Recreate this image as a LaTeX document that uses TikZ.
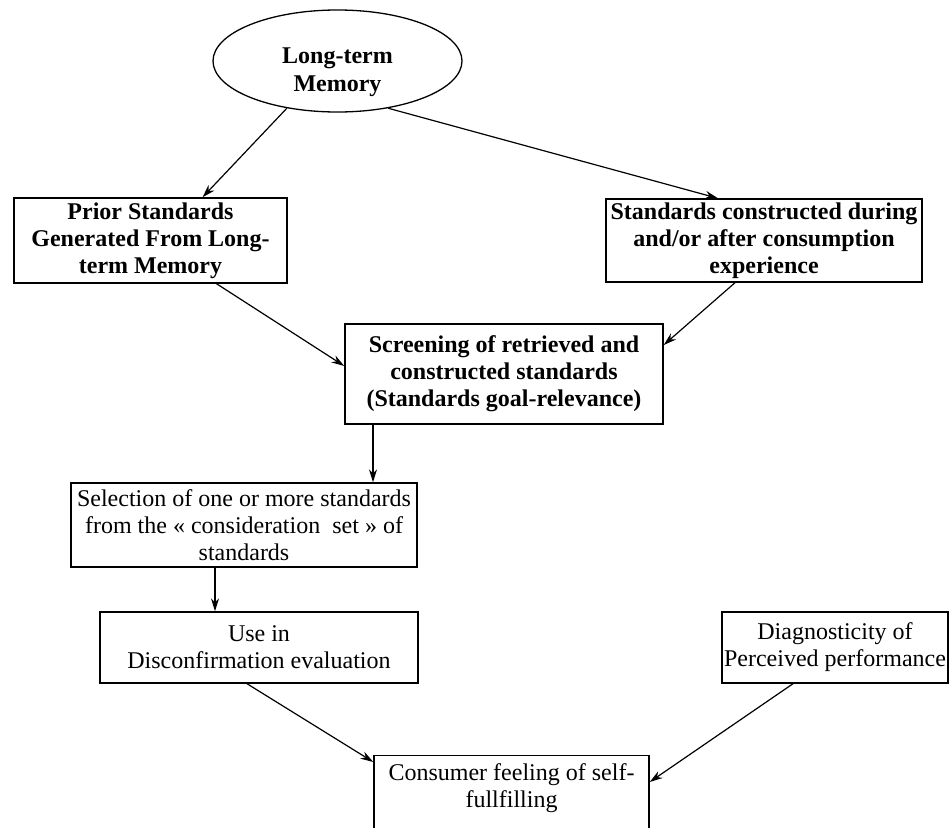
\documentclass[tikz,border=0pt]{standalone}
\usepackage{fontspec}
\setmainfont{Liberation Serif}
\usetikzlibrary{shapes.geometric,arrows.meta,calc}
\begin{document}
\begin{tikzpicture}[x=1pt,y=-1pt,
  box/.style={draw, line width=1.4pt, rectangle, inner sep=1pt, align=center,
    font=\fontsize{24}{27}\selectfont},
  bbox/.style={box, font=\fontsize{24}{27}\selectfont\bfseries},
  txt/.style={inner sep=0pt, align=center, font=\fontsize{24}{27}\selectfont},
  btxt/.style={txt, font=\fontsize{24}{28}\selectfont\bfseries},
  conn/.style={line width=1.2pt, -{Stealth[length=13pt,width=8pt]}}]
\useasboundingbox (0,0) rectangle (952,827);

% nodes
\node[draw, line width=1.3pt, ellipse, minimum width=249pt, minimum height=102pt, inner sep=0pt] (ltm) at (337.5,61) {};
\node[btxt] (ltmtext) at (337.5,72) {Long-term\\Memory};

\node[bbox, minimum width=273pt, minimum height=85pt] (prior) at (150.5,240.5)
  {Prior Standards\\Generated From Long-\\term Memory};
\node[bbox, minimum width=316pt, minimum height=83pt] (std) at (764,240.5)
  {Standards constructed during\\and/or after consumption\\experience};
\node[bbox, minimum width=318pt, minimum height=100pt] (scr) at (504,374)
  {Screening of retrieved and\\constructed standards\\(Standards goal-relevance)};
\node[box, minimum width=346pt, minimum height=84pt] (sel) at (244,525)
  {Selection of one or more standards\\from the « consideration\ \ set » of\\standards};
\node[box, minimum width=318pt, minimum height=71pt] (use) at (259,647.5)
  {Use in\\Disconfirmation evaluation};
\node[box, minimum width=226pt, minimum height=71pt] (diag) at (835,647.5)
  {Diagnosticity of\\Perceived performance};
\node[box, anchor=north, minimum width=275pt, minimum height=110pt] (cons) at (511.5,755) {};
\node[txt] (constext) at (511.5,788) {Consumer feeling of self-\\fullfilling};

% connectors
\draw[conn] (ltm.223) -- ($(prior.north)+(52,0)$);
\draw[conn] (ltm.317) -- ($(std.north)+(-46,0)$);
\draw[conn] ($(prior.south)+(66,0)$) -- ($(scr.west)+(0,-8)$);
\draw[conn] ($(std.south)+(-29,0)$) -- ($(scr.east)+(0,-29)$);
\draw[conn] ($(scr.south)+(-131,0)$) -- ($(sel.north)+(129,0)$);
\draw[conn] ($(sel.south)+(-29,0)$) -- ($(use.north)+(-44,0)$);
\draw[conn] ($(use.south)+(-12,0)$) -- ($(cons.north west)+(0,7)$);
\draw[conn] ($(diag.south)+(-42,0)$) -- ($(cons.north east)+(0,27)$);
\end{tikzpicture}
\end{document}
